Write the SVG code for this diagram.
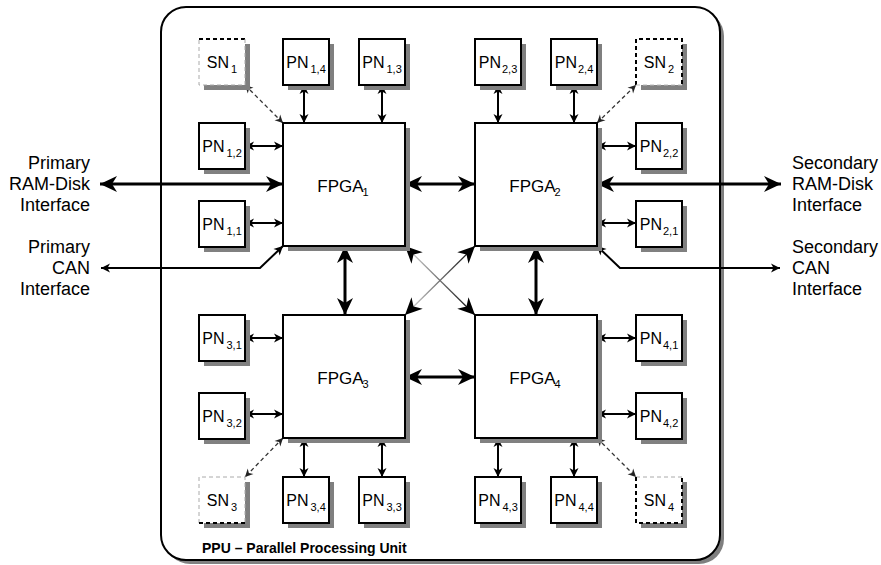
<svg xmlns="http://www.w3.org/2000/svg" width="881" height="565" viewBox="0 0 881 565">
<style>
text{font-family:"Liberation Sans",Arial,sans-serif;fill:#000}
.lbl{font-size:16px}
.big{font-size:18px}
.fp{font-size:17px}
.sub{font-size:11px}
.box{fill:#fff;stroke:#000;stroke-width:2}
.s{fill:url(#sg)}
.c{fill:none;stroke:#000;stroke-width:2}
.ct{fill:none;stroke:#000;stroke-width:3}
.cd{fill:none;stroke:#333;stroke-width:1.3;stroke-dasharray:4 3}
.snb{fill:#fff;stroke:none}
</style>
<defs>
<linearGradient id="sg" x1="0" y1="0" x2="1" y2="0"><stop offset="0" stop-color="#818181"/><stop offset="1" stop-color="#7f7f7f"/></linearGradient>
<marker id="a" markerUnits="userSpaceOnUse" viewBox="-10 -6 11 12" markerWidth="11" markerHeight="12" refX="0" refY="0" orient="auto-start-reverse"><path d="M-9,-4.5 L0,0 L-9,4.5 L-6.5,0 Z" fill="#000"/></marker>
<marker id="ad" markerUnits="userSpaceOnUse" viewBox="-10 -6 11 12" markerWidth="11" markerHeight="12" refX="0" refY="0" orient="auto-start-reverse"><path d="M-8,-4 L0,0 L-8,4 L-5.5,0 Z" fill="#222"/></marker>
<marker id="b" markerUnits="userSpaceOnUse" viewBox="-19 -10 20 20" markerWidth="20" markerHeight="20" refX="0" refY="0" orient="auto-start-reverse"><path d="M-17,-8 L0,0 L-17,8 L-12,0 Z" fill="#000"/></marker>
<linearGradient id="g" x1="0" y1="0" x2="1" y2="0"><stop offset="0" stop-color="#e0e0e0"/><stop offset="1" stop-color="#000"/></linearGradient>
</defs>

<g id="ppu">
<rect class="s" x="165" y="11" width="559" height="553" rx="25" ry="25"/>
<rect x="161" y="7" width="559" height="553" rx="25" ry="25" fill="#fff" stroke="#000" stroke-width="2"/>
<text x="202" y="553" style="font-size:14px;font-weight:bold">PPU – Parallel Processing Unit</text>
</g>

<g id="connectors">
<line class="ct" x1="100" y1="184" x2="283" y2="184" marker-start="url(#b)" marker-end="url(#b)"/>
<line class="ct" x1="597" y1="184" x2="781" y2="184" marker-start="url(#b)" marker-end="url(#b)"/>
<line class="ct" x1="405" y1="184" x2="475" y2="184" marker-start="url(#b)" marker-end="url(#b)"/>
<line class="ct" x1="405" y1="377" x2="475" y2="377" marker-start="url(#b)" marker-end="url(#b)"/>
<line class="ct" x1="345" y1="246" x2="345" y2="315" marker-start="url(#b)" marker-end="url(#b)"/>
<line class="ct" x1="536" y1="246" x2="536" y2="315" marker-start="url(#b)" marker-end="url(#b)"/>
<line x1="405" y1="246" x2="475" y2="315" stroke="url(#g)" stroke-width="1.3" marker-start="url(#b)" marker-end="url(#b)"/>
<line x1="405" y1="315" x2="475" y2="246" stroke="url(#g)" stroke-width="1.3" marker-start="url(#b)" marker-end="url(#b)"/>
<polyline class="c" points="101,268 260,268 283,246" marker-start="url(#a)" marker-end="url(#a)"/>
<polyline class="c" points="597,246 620,268 780,268" marker-start="url(#a)" marker-end="url(#a)"/>
<line class="c" x1="304" y1="85" x2="304" y2="123" marker-start="url(#a)" marker-end="url(#a)"/>
<line class="c" x1="382" y1="85" x2="382" y2="123" marker-start="url(#a)" marker-end="url(#a)"/>
<line class="c" x1="245" y1="146" x2="283" y2="146" marker-start="url(#a)" marker-end="url(#a)"/>
<line class="c" x1="245" y1="223" x2="283" y2="223" marker-start="url(#a)" marker-end="url(#a)"/>
<line class="cd" x1="245" y1="85" x2="283" y2="123" marker-start="url(#ad)" marker-end="url(#ad)"/>
<line class="c" x1="498" y1="85" x2="498" y2="123" marker-start="url(#a)" marker-end="url(#a)"/>
<line class="c" x1="574" y1="85" x2="574" y2="123" marker-start="url(#a)" marker-end="url(#a)"/>
<line class="c" x1="597" y1="146" x2="636" y2="146" marker-start="url(#a)" marker-end="url(#a)"/>
<line class="c" x1="597" y1="223" x2="636" y2="223" marker-start="url(#a)" marker-end="url(#a)"/>
<line class="cd" x1="597" y1="123" x2="636" y2="85" marker-start="url(#ad)" marker-end="url(#ad)"/>
<line class="c" x1="245" y1="338" x2="283" y2="338" marker-start="url(#a)" marker-end="url(#a)"/>
<line class="c" x1="245" y1="414" x2="283" y2="414" marker-start="url(#a)" marker-end="url(#a)"/>
<line class="c" x1="304" y1="438" x2="304" y2="477" marker-start="url(#a)" marker-end="url(#a)"/>
<line class="c" x1="382" y1="438" x2="382" y2="477" marker-start="url(#a)" marker-end="url(#a)"/>
<line class="cd" x1="283" y1="438" x2="245" y2="477" marker-start="url(#ad)" marker-end="url(#ad)"/>
<line class="c" x1="597" y1="338" x2="636" y2="338" marker-start="url(#a)" marker-end="url(#a)"/>
<line class="c" x1="597" y1="414" x2="636" y2="414" marker-start="url(#a)" marker-end="url(#a)"/>
<line class="c" x1="498" y1="438" x2="498" y2="477" marker-start="url(#a)" marker-end="url(#a)"/>
<line class="c" x1="574" y1="438" x2="574" y2="477" marker-start="url(#a)" marker-end="url(#a)"/>
<line class="cd" x1="597" y1="438" x2="636" y2="477" marker-start="url(#ad)" marker-end="url(#ad)"/>
</g>

<g id="lbl-primary-ram"><text class="big" text-anchor="end" x="90" y="169">Primary</text><text class="big" text-anchor="end" x="90" y="190">RAM-Disk</text><text class="big" text-anchor="end" x="90" y="211">Interface</text></g>
<g id="lbl-primary-can"><text class="big" text-anchor="end" x="90" y="253">Primary</text><text class="big" text-anchor="end" x="90" y="274">CAN</text><text class="big" text-anchor="end" x="90" y="295">Interface</text></g>
<g id="lbl-secondary-ram"><text class="big" x="792" y="169">Secondary</text><text class="big" x="792" y="190">RAM-Disk</text><text class="big" x="792" y="211">Interface</text></g>
<g id="lbl-secondary-can"><text class="big" x="792" y="253">Secondary</text><text class="big" x="792" y="274">CAN</text><text class="big" x="792" y="295">Interface</text></g>

<g id="fpga1"><rect class="s" x="288" y="128" width="122" height="123"/><rect class="box" x="283" y="123" width="122" height="123"/><text class="fp" x="343" y="192" text-anchor="middle">FPGA<tspan class="sub" dy="4" dx="-1">1</tspan></text></g>
<g id="fpga2"><rect class="s" x="480" y="128" width="122" height="123"/><rect class="box" x="475" y="123" width="122" height="123"/><text class="fp" x="535" y="192" text-anchor="middle">FPGA<tspan class="sub" dy="4" dx="-1">2</tspan></text></g>
<g id="fpga3"><rect class="s" x="288" y="320" width="122" height="123"/><rect class="box" x="283" y="315" width="122" height="123"/><text class="fp" x="343" y="384" text-anchor="middle">FPGA<tspan class="sub" dy="4" dx="-1">3</tspan></text></g>
<g id="fpga4"><rect class="s" x="480" y="320" width="122" height="123"/><rect class="box" x="475" y="315" width="122" height="123"/><text class="fp" x="535" y="384" text-anchor="middle">FPGA<tspan class="sub" dy="4" dx="-1">4</tspan></text></g>

<g id="sn1"><rect class="s" x="204" y="44" width="46" height="46"/><rect class="snb" x="199" y="39" width="46" height="46"/><path d="M199,39 H245" stroke="#000" stroke-width="2" stroke-dasharray="4 3"/><path d="M245,39 V85 H199 V39" fill="none" stroke="#aaa" stroke-width="1" stroke-dasharray="4 3"/><text class="lbl" x="222" y="68" text-anchor="middle">SN<tspan class="sub" dx="2" dy="5">1</tspan></text></g>
<g id="pn14"><rect class="s" x="288" y="44" width="46" height="46"/><rect class="box" x="283" y="39" width="46" height="46"/><text class="lbl" x="306" y="68" text-anchor="middle">PN<tspan class="sub" dx="2" dy="5">1,4</tspan></text></g>
<g id="pn13"><rect class="s" x="364" y="44" width="46" height="46"/><rect class="box" x="359" y="39" width="46" height="46"/><text class="lbl" x="382" y="68" text-anchor="middle">PN<tspan class="sub" dx="2" dy="5">1,3</tspan></text></g>
<g id="pn12"><rect class="s" x="204" y="128" width="46" height="46"/><rect class="box" x="199" y="123" width="46" height="46"/><text class="lbl" x="222" y="152" text-anchor="middle">PN<tspan class="sub" dx="2" dy="5">1,2</tspan></text></g>
<g id="pn11"><rect class="s" x="204" y="206" width="46" height="46"/><rect class="box" x="199" y="201" width="46" height="46"/><text class="lbl" x="222" y="230" text-anchor="middle">PN<tspan class="sub" dx="2" dy="5">1,1</tspan></text></g>

<g id="pn23"><rect class="s" x="480" y="44" width="46" height="46"/><rect class="box" x="475" y="39" width="46" height="46"/><text class="lbl" x="498" y="68" text-anchor="middle">PN<tspan class="sub" dx="1" dy="5">2,3</tspan></text></g>
<g id="pn24"><rect class="s" x="556" y="44" width="46" height="46"/><rect class="box" x="551" y="39" width="46" height="46"/><text class="lbl" x="574" y="68" text-anchor="middle">PN<tspan class="sub" dx="1" dy="5">2,4</tspan></text></g>
<g id="sn2"><rect class="s" x="641" y="44" width="46" height="46"/><rect class="snb" x="636" y="39" width="46" height="46"/><path d="M636,85 V39 H682 V85" fill="none" stroke="#000" stroke-width="2" stroke-dasharray="4 3"/><path d="M636,85 H682" stroke="#bbb" stroke-width="1" stroke-dasharray="4 3"/><text class="lbl" x="659" y="68" text-anchor="middle">SN<tspan class="sub" dx="2" dy="5">2</tspan></text></g>
<g id="pn22"><rect class="s" x="641" y="128" width="46" height="46"/><rect class="box" x="636" y="123" width="46" height="46"/><text class="lbl" x="659" y="152" text-anchor="middle">PN<tspan class="sub" dx="1" dy="5">2,2</tspan></text></g>
<g id="pn21"><rect class="s" x="641" y="206" width="46" height="46"/><rect class="box" x="636" y="201" width="46" height="46"/><text class="lbl" x="659" y="230" text-anchor="middle">PN<tspan class="sub" dx="1" dy="5">2,1</tspan></text></g>

<g id="pn31"><rect class="s" x="204" y="320" width="46" height="46"/><rect class="box" x="199" y="315" width="46" height="46"/><text class="lbl" x="222" y="344" text-anchor="middle">PN<tspan class="sub" dx="2" dy="5">3,1</tspan></text></g>
<g id="pn32"><rect class="s" x="204" y="398" width="46" height="46"/><rect class="box" x="199" y="393" width="46" height="46"/><text class="lbl" x="222" y="422" text-anchor="middle">PN<tspan class="sub" dx="2" dy="5">3,2</tspan></text></g>
<g id="sn3"><rect class="s" x="204" y="482" width="46" height="46"/><rect class="snb" x="199" y="477" width="46" height="46"/><path d="M199,523 V477 H245 V523" fill="none" stroke="#aaa" stroke-width="1" stroke-dasharray="4 3"/><path d="M199,523 H245" stroke="#000" stroke-width="2" stroke-dasharray="4 3"/><text class="lbl" x="222" y="506" text-anchor="middle">SN<tspan class="sub" dx="2" dy="5">3</tspan></text></g>
<g id="pn34"><rect class="s" x="288" y="482" width="46" height="46"/><rect class="box" x="283" y="477" width="46" height="46"/><text class="lbl" x="306" y="506" text-anchor="middle">PN<tspan class="sub" dx="2" dy="5">3,4</tspan></text></g>
<g id="pn33"><rect class="s" x="364" y="482" width="46" height="46"/><rect class="box" x="359" y="477" width="46" height="46"/><text class="lbl" x="382" y="506" text-anchor="middle">PN<tspan class="sub" dx="2" dy="5">3,3</tspan></text></g>

<g id="pn41"><rect class="s" x="641" y="320" width="46" height="46"/><rect class="box" x="636" y="315" width="46" height="46"/><text class="lbl" x="659" y="344" text-anchor="middle">PN<tspan class="sub" dx="1" dy="5">4,1</tspan></text></g>
<g id="pn42"><rect class="s" x="641" y="398" width="46" height="46"/><rect class="box" x="636" y="393" width="46" height="46"/><text class="lbl" x="659" y="422" text-anchor="middle">PN<tspan class="sub" dx="1" dy="5">4,2</tspan></text></g>
<g id="pn43"><rect class="s" x="480" y="482" width="46" height="46"/><rect class="box" x="475" y="477" width="46" height="46"/><text class="lbl" x="498" y="506" text-anchor="middle">PN<tspan class="sub" dx="2" dy="5">4,3</tspan></text></g>
<g id="pn44"><rect class="s" x="556" y="482" width="46" height="46"/><rect class="box" x="551" y="477" width="46" height="46"/><text class="lbl" x="574" y="506" text-anchor="middle">PN<tspan class="sub" dx="2" dy="5">4,4</tspan></text></g>
<g id="sn4"><rect class="s" x="641" y="482" width="46" height="46"/><rect class="snb" x="636" y="477" width="46" height="46"/><path d="M636,477 H682" stroke="#aaa" stroke-width="1" stroke-dasharray="4 3"/><path d="M636,477 V523 H682 V477" fill="none" stroke="#000" stroke-width="2" stroke-dasharray="4 3"/><text class="lbl" x="659" y="506" text-anchor="middle">SN<tspan class="sub" dx="2" dy="5">4</tspan></text></g>
</svg>
